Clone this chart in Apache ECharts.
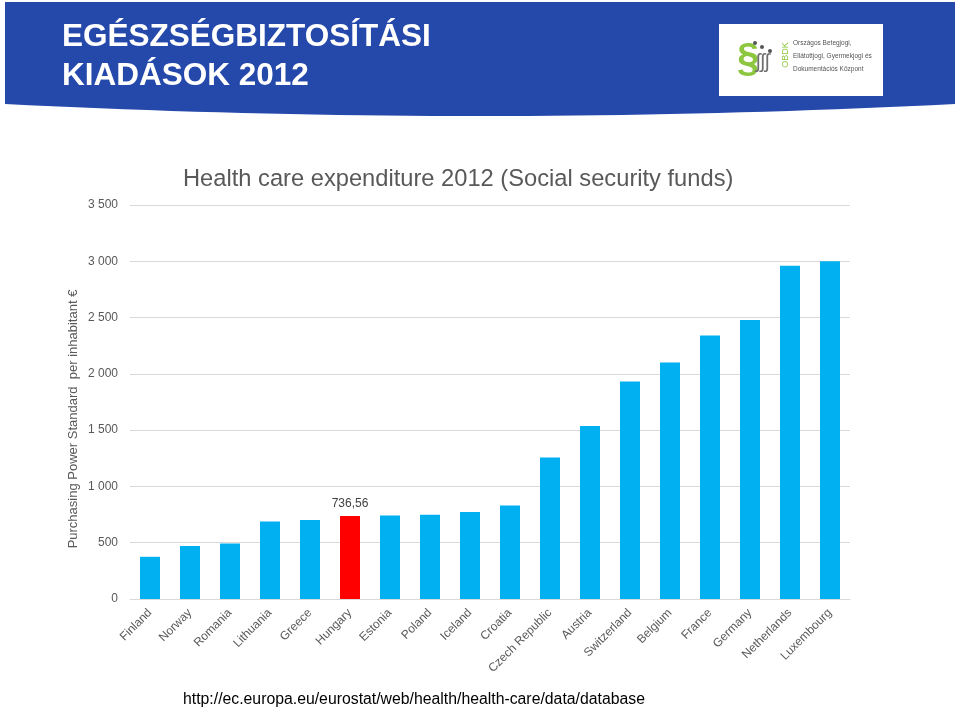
<!DOCTYPE html>
<html>
<head>
<meta charset="utf-8">
<script src="https://cdn.jsdelivr.net/npm/echarts@6/dist/echarts.min.js"></script>
<style>html,body{margin:0;padding:0;background:#fff;}#c{width:959px;height:708px;}</style>
</head>
<body>
<div id="c"></div>
<script>
const categories = ["Finland","Norway","Romania","Lithuania","Greece","Hungary","Estonia","Poland","Iceland","Croatia","Czech Republic","Austria","Switzerland","Belgium","France","Germany","Netherlands","Luxembourg"];
const values = [375, 470, 494, 689, 701, 736.56, 742, 748, 772, 831, 1257, 1536, 1932, 2100, 2340, 2479, 2961, 3000];
const highlighted = "Hungary";
const yTicks = [0, 500, 1000, 1500, 2000, 2500, 3000, 3500];
const chartTitle = "Health care expenditure 2012 (Social security funds)";
const yAxisTitle = "Purchasing Power Standard  per inhabitant €";
const headerLines = ["EGÉSZSÉGBIZTOSÍTÁSI", "KIADÁSOK 2012"];
const sourceText = "http://ec.europa.eu/eurostat/web/health/health-care/data/database";
const logoLines = ["Országos Betegjogi,", "Ellátottjogi, Gyermekjogi és", "Dokumentációs Központ"];

const font = "'Liberation Sans', Arial, sans-serif";
const grey = '#595959';

function fmt(v){ return String(v).replace(/\B(?=(\d{3})+(?!\d))/g, ' '); }

// header band outline (decorative shape)
const band = [[5,2],[955,2],[955,104]];
for (let i = 1; i < 40; i++) {
  const t = i / 40;
  const x = (1-t)*(1-t)*955 + 2*(1-t)*t*480 + t*t*5;
  const y = (1-t)*(1-t)*104 + 2*(1-t)*t*128 + t*t*104;
  band.push([x, y]);
}
band.push([5,104]);

const chart = echarts.init(document.getElementById('c'), null, {renderer:'canvas'});
chart.setOption({
  animation:false,
  backgroundColor:'#ffffff',
  grid:{left:130, right:109, top:205, bottom:109, containLabel:false},
  xAxis:{
    type:'category', data:categories,
    axisLine:{show:true, lineStyle:{color:'#d9d9d9', width:1}},
    axisTick:{show:false},
    axisLabel:{rotate:45, interval:0, color:grey, fontFamily:font, fontSize:12, margin:12}
  },
  yAxis:{
    type:'value', min:yTicks[0], max:yTicks[yTicks.length-1], interval:500,
    axisLine:{show:false}, axisTick:{show:false},
    splitLine:{lineStyle:{color:'#d9d9d9', width:1}},
    axisLabel:{color:grey, fontFamily:font, fontSize:12, margin:12, formatter:fmt}
  },
  series:[{
    type:'bar', barWidth:'50%',
    data: values.map((v,i)=>({
      value:v,
      itemStyle:{color: categories[i]===highlighted ? '#FF0000' : '#00B0F0'},
      label: categories[i]===highlighted ? {show:true, position:'top', distance:6, color:'#404040', fontFamily:font, fontSize:12, formatter:(p)=>String(p.value).replace('.',',')} : {show:false}
    }))
  }],
  graphic:[
    {type:'polygon', shape:{points:band}, style:{fill:'#2549AA'}, z:-1},
    {type:'text', x:62, y:37, style:{text:headerLines[0], fill:'#fff', font:"bold 31.5px "+font, textVerticalAlign:'middle'}},
    {type:'text', x:62, y:76, style:{text:headerLines[1], fill:'#fff', font:"bold 31.5px "+font, textVerticalAlign:'middle'}},
    {type:'rect', shape:{x:719, y:24, width:164, height:72}, style:{fill:'#ffffff'}},
    {type:'text', x:737, y:60, style:{text:'§', fill:'#8DC63F', font:"bold 40px "+font, textVerticalAlign:'middle'}},
    {type:'text', x:756, y:62, style:{text:'ʃʃʃ', fill:'#707070', font:"20px "+font, textVerticalAlign:'middle'}},
    {type:'circle', shape:{cx:755, cy:43, r:2}, style:{fill:'#555'}},
    {type:'circle', shape:{cx:762, cy:47, r:2}, style:{fill:'#555'}},
    {type:'circle', shape:{cx:770, cy:51, r:2}, style:{fill:'#555'}},
    {type:'text', x:786, y:55, rotation:Math.PI/2, style:{text:'OBDK', fill:'#8DC63F', font:"9px "+font, textAlign:'center', textVerticalAlign:'middle'}},
    {type:'text', x:793, y:43, style:{text:logoLines[0], fill:'#555', font:"6.5px "+font, textVerticalAlign:'middle'}},
    {type:'text', x:793, y:56, style:{text:logoLines[1], fill:'#555', font:"6.5px "+font, textVerticalAlign:'middle'}},
    {type:'text', x:793, y:69, style:{text:logoLines[2], fill:'#555', font:"6.5px "+font, textVerticalAlign:'middle'}},
    {type:'text', x:183, y:179, style:{text:chartTitle, fill:grey, font:"23.7px "+font, textVerticalAlign:'middle'}},
    {type:'text', x:73, y:419, rotation:Math.PI/2, style:{text:yAxisTitle, fill:grey, font:"13px "+font, textAlign:'center', textVerticalAlign:'middle'}},
    {type:'text', x:183, y:700, style:{text:sourceText, fill:'#000', font:"15.8px "+font, textVerticalAlign:'middle'}}
  ]
});
</script>
</body>
</html>
